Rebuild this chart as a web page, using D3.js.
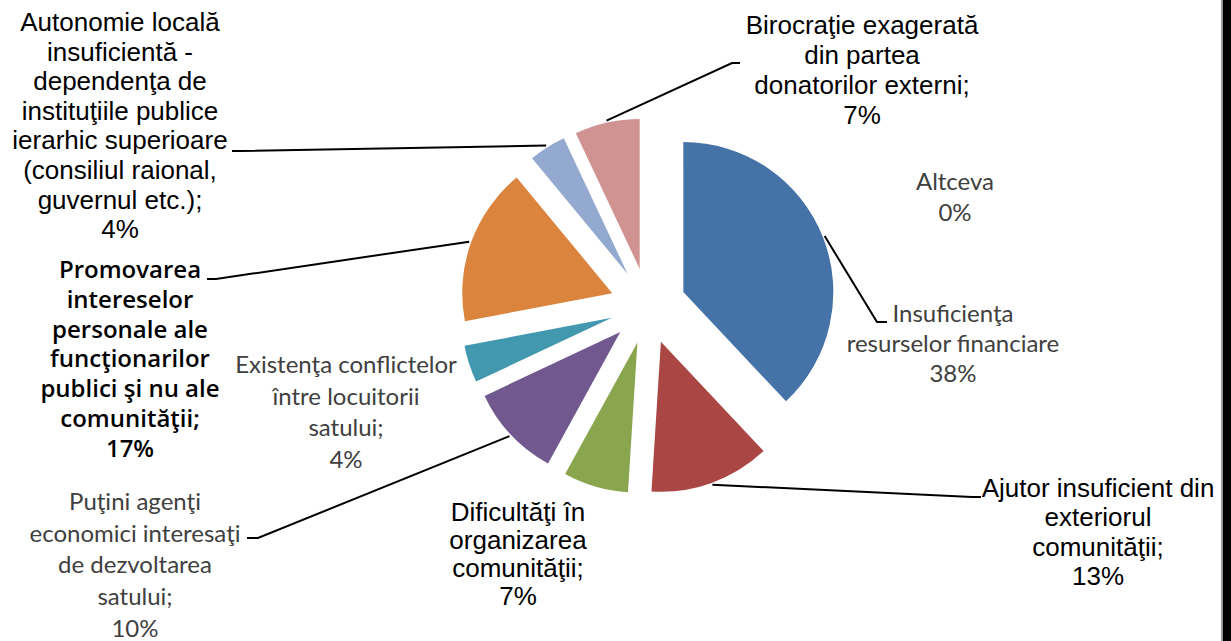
<!DOCTYPE html>
<html>
<head>
<meta charset="utf-8">
<script src="https://cdn.jsdelivr.net/npm/d3@7"></script>
<style>
  html, body { margin: 0; padding: 0; background: #fff; }
  svg { display: block; }
</style>
</head>
<body>
<svg id="chart" width="1231" height="641"></svg>
<script>
// ---- data ----
const categories = [
  ["Insuficienţa", "resurselor financiare"],
  ["Ajutor insuficient din", "exteriorul", "comunităţii;"],
  ["Dificultăţi în", "organizarea", "comunităţii;"],
  ["Puţini agenţi", "economici interesaţi", "de dezvoltarea", "satului;"],
  ["Existenţa conflictelor", "între locuitorii", "satului;"],
  ["Promovarea", "intereselor", "personale ale", "funcţionarilor", "publici şi nu ale", "comunităţii;"],
  ["Autonomie locală", "insuficientă -", "dependenţa de", "instituţiile publice", "ierarhic superioare", "(consiliul raional,", "guvernul etc.);"],
  ["Birocraţie exagerată", "din partea", "donatorilor externi;"],
  ["Altceva"]
];
const values = [38, 13, 7, 10, 4, 17, 4, 7, 0];
const percentLabels = ["38%", "13%", "7%", "10%", "4%", "17%", "4%", "7%", "0%"];
const colors = ["#4572A7", "#AA4643", "#89A54E", "#71588F", "#4198AF", "#DB843D", "#93A9CF", "#D19392", "#B9CD96"];

// ---- layout ----
const cx = 648, cy = 306, R = 150, explode = 38;
// label styles: 0 = Arial-like, 1 = Calibri-like grey, 2 = semibold
const labelLayout = [
  {x: 953, y: 322, dy: 30,   style: 1, leader: [[877, 322], [887, 322]]},
  {x: 1098, y: 497, dy: 29.3, style: 0, leader: [[972, 497], [981, 497]]},
  {x: 518, y: 521, dy: 28,   style: 0, leader: null},
  {x: 135, y: 510, dy: 31.7, style: 1, leader: [[258, 538], [247, 538]]},
  {x: 346, y: 373, dy: 31.7, style: 1, leader: null},
  {x: 130, y: 278, dy: 29.8, style: 2, leader: [[216, 279], [207, 279]]},
  {x: 120, y: 31,  dy: 29.6, style: 0, leader: [[240, 151], [232, 151]]},
  {x: 862, y: 34,  dy: 30,   style: 0, leader: [[732, 63], [740, 63]]},
  {x: 955, y: 190, dy: 31,   style: 1, leader: null}
];
const styles = [
  {family: "'Liberation Sans', Arial, sans-serif", size: 26, weight: 400, fill: "#000"},
  {family: "Lato, 'Open Sans', sans-serif", size: 24, weight: 400, fill: "#404040"},
  {family: "'Open Sans', sans-serif", size: 24, weight: 600, fill: "#000"}
];

const svg = d3.select("#chart");

const pie = d3.pie().sort(null).value(d => d).startAngle(0).endAngle(2 * Math.PI);
const arcs = pie(values);
const arcGen = d3.arc().innerRadius(0).outerRadius(R);

function offset(d) {
  const m = (d.startAngle + d.endAngle) / 2;
  return [Math.sin(m) * explode, -Math.cos(m) * explode];
}

svg.append("g")
  .selectAll("path")
  .data(arcs.filter(d => d.value > 0))
  .join("path")
  .attr("transform", d => { const o = offset(d); return `translate(${cx + o[0]},${cy + o[1]})`; })
  .attr("d", arcGen)
  .attr("fill", (d) => colors[d.index]);

// leader lines
const lineGen = d3.line();
arcs.forEach((d, i) => {
  const L = labelLayout[i];
  if (!L.leader || d.value === 0) return;
  const o = offset(d);
  const m = (d.startAngle + d.endAngle) / 2;
  const start = [cx + o[0] + Math.sin(m) * (R + 2), cy + o[1] - Math.cos(m) * (R + 2)];
  svg.append("path")
    .attr("d", lineGen([start, ...L.leader]))
    .attr("fill", "none")
    .attr("stroke", "#000")
    .attr("stroke-width", 2);
});

// labels
arcs.forEach((d, i) => {
  const L = labelLayout[i];
  const s = styles[L.style];
  const lines = categories[i].slice();
  lines.push(percentLabels[i]);
  const t = svg.append("text")
    .attr("text-anchor", "middle")
    .attr("font-family", s.family)
    .attr("font-size", s.size)
    .attr("font-weight", s.weight)
    .attr("fill", s.fill);
  lines.forEach((ln, k) => {
    t.append("tspan").attr("x", L.x).attr("y", L.y + k * L.dy).text(ln);
  });
});

// right frame edge
svg.append("rect").attr("x", 1221).attr("y", 0).attr("width", 2).attr("height", 641).attr("fill", "#999");
svg.append("rect").attr("x", 1223).attr("y", 0).attr("width", 8).attr("height", 641).attr("fill", "#000");
</script>
</body>
</html>
